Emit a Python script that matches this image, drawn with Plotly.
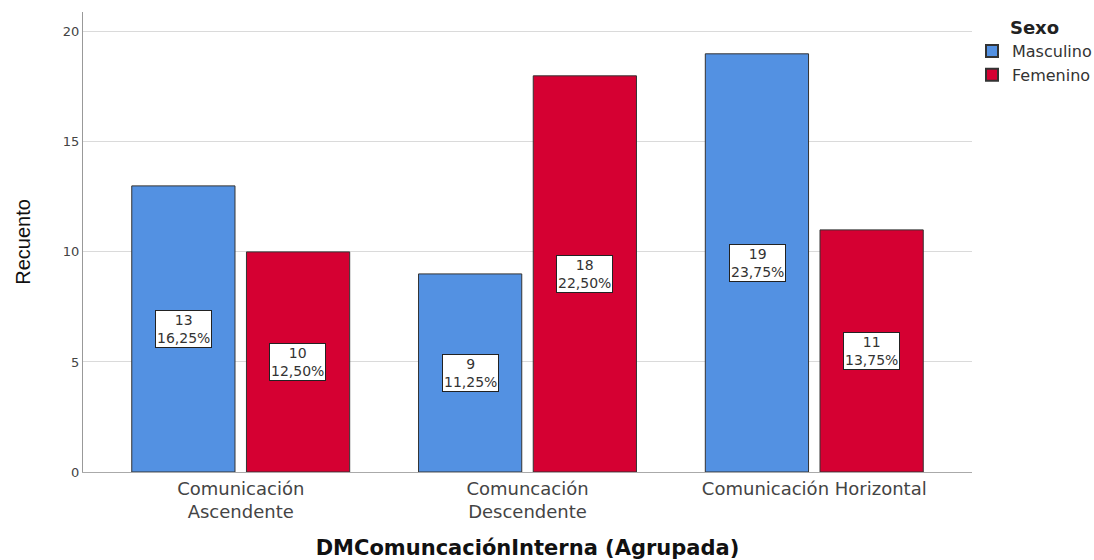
import plotly.graph_objects as go

categories = ["Comunicación<br>Ascendente", "Comuncación<br>Descendente", "Comunicación Horizontal"]
masculino = [13, 9, 19]
femenino = [10, 18, 11]
masc_pct = ["16,25%", "11,25%", "23,75%"]
fem_pct = ["12,50%", "22,50%", "13,75%"]

BLUE = "#5391E2"
RED = "#D50032"

fig = go.Figure()
fig.add_trace(go.Bar(x=categories, y=masculino, name="Masculino",
                     marker=dict(color=BLUE, line=dict(color="#333333", width=1))))
fig.add_trace(go.Bar(x=categories, y=femenino, name="Femenino",
                     marker=dict(color=RED, line=dict(color="#333333", width=1))))

for series, pcts, shift in [(masculino, masc_pct, -57), (femenino, fem_pct, 57)]:
    for cat, v, p in zip(categories, series, pcts):
        fig.add_annotation(x=cat, y=v / 2, xref="x", yref="y", xshift=shift,
                           text=f"{v}<br>{p}", showarrow=False,
                           font=dict(family="DejaVu Sans", size=14, color="#333333"),
                           bgcolor="white", bordercolor="#222222", borderwidth=1,
                           borderpad=1, yanchor="middle", xanchor="center")

fig.update_layout(
    width=1094, height=560,
    margin=dict(l=83, r=122, t=12, b=88, autoexpand=False),
    paper_bgcolor="white", plot_bgcolor="white",
    barmode="group", bargap=0.2, bargroupgap=0.1,
    showlegend=True,
    legend=dict(
        title=dict(text="<b>Sexo</b>", side="top center",
                   font=dict(family="DejaVu Sans", size=18, color="#222222")),
        x=1.0, xanchor="left", y=1.003, yanchor="top",
        font=dict(family="DejaVu Sans", size=16, color="#333333"),
        tracegroupgap=0, itemsizing="constant",
    ),
    xaxis=dict(
        range=[-0.55, 2.55], showgrid=False, showline=True, linecolor="#AAAAAA",
        linewidth=1, ticks="", automargin=False,
        tickfont=dict(family="DejaVu Sans", size=18, color="#444444"),
        title=dict(text="<b>DMComuncaciónInterna (Agrupada)</b>",
                   font=dict(family="DejaVu Sans", size=21, color="#111111"),
                   standoff=22),
    ),
    yaxis=dict(
        range=[0, 20.9], tickvals=[0, 5, 10, 15, 20], showgrid=True,
        gridcolor="#DADADA", gridwidth=1, showline=True, linecolor="#999999",
        linewidth=1, ticks="", zeroline=False, automargin=False,
        tickfont=dict(family="DejaVu Sans", size=13, color="#444444"),
        title=dict(text="Recuento",
                   font=dict(family="Liberation Sans", size=20, color="#111111"),
                   standoff=26),
    ),
)

fig.write_html("out.html")
